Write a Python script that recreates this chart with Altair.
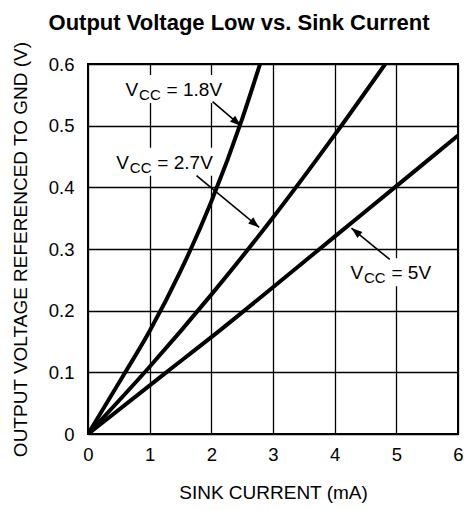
import math
import altair as alt
import pandas as pd

# ---------------- data ----------------
chart_title = "Output Voltage Low vs. Sink Current"
series_names = ["1.8V", "2.7V", "5V"]

sink_18 = [0, 0.58, 1.0, 1.5, 2.0, 2.5, 2.79]
vol_18 = [0, 0.096, 0.167, 0.264, 0.377, 0.511, 0.6]

sink_27 = [0, 1.0, 2.0, 3.0, 4.0, 4.82]
vol_27 = [0, 0.109, 0.226, 0.351, 0.485, 0.6]

sink_5 = [0, 1.27, 2.0, 3.0, 4.0, 5.0, 6.0]
vol_5 = [0, 0.1, 0.157, 0.238, 0.32, 0.402, 0.484]

x_ticks = [0, 1, 2, 3, 4, 5, 6]
y_ticks = [0, 0.1, 0.2, 0.3, 0.4, 0.5, 0.6]

# annotation anchors (data units)
ann_x = [0.61, 0.46, 4.256]
ann_y = [0.548, 0.43, 0.251]
ann_end_x = [2.17, 2.06, 5.53]
arrow_x1 = [2.02, 1.76, 4.893]
arrow_y1 = [0.539, 0.419, 0.283]
arrow_x2 = [2.48, 2.776, 4.272]
arrow_y2 = [0.4998, 0.335, 0.334]

# ---------------- layout constants ----------------
W = H = 370
PAD_L, PAD_T, PAD_R, PAD_B = 80, 56, 6, 72
PX_X = W / 6.0
PX_Y = H / 0.6
FONT = "Liberation Sans"

rows = []
for name, xs_, ys_ in zip(series_names, [sink_18, sink_27, sink_5], [vol_18, vol_27, vol_5]):
    for xv, yv in zip(xs_, ys_):
        rows.append({"vcc": name, "i": xv, "v": yv})
curves = pd.DataFrame(rows)

ann_rows = []
for k, name in enumerate(series_names):
    dxp = (arrow_x2[k] - arrow_x1[k]) * PX_X
    dyp = -(arrow_y2[k] - arrow_y1[k]) * PX_Y
    ang = math.degrees(math.atan2(dxp, -dyp)) % 360
    ann_rows.append({
        "vcc": name, "rest": "= " + name,
        "ax": ann_x[k], "ay": ann_y[k], "ex": ann_end_x[k],
        "x1": arrow_x1[k], "y1": arrow_y1[k],
        "x2": arrow_x2[k], "y2": arrow_y2[k], "ang": ang,
    })
ann = pd.DataFrame(ann_rows)

xs = alt.Scale(domain=[0, 6], nice=False, zero=False)
ys = alt.Scale(domain=[0, 0.6], nice=False, zero=False)

x_axis = alt.Axis(values=x_ticks, format="d", title="SINK CURRENT (mA)",
                  grid=True, ticks=False, tickSize=0, domain=False,
                  labelPadding=11, labelFontSize=18.5, labelFont=FONT,
                  labelColor="black", titleFontSize=19, titleFont=FONT,
                  titleFontWeight="normal", titleColor="black",
                  titleBaseline="alphabetic", titleY=64, labelFlush=False)
y_axis = alt.Axis(values=y_ticks, format=".1~f",
                  title="OUTPUT VOLTAGE REFERENCED TO GND (V)",
                  grid=True, ticks=False, tickSize=0, domain=False,
                  labelPadding=14, labelFontSize=18.5, labelFont=FONT,
                  labelColor="black", titleFontSize=19, titleFont=FONT,
                  titleFontWeight="normal", titleColor="black",
                  titleBaseline="alphabetic", titleX=-62, titleY=H / 2,
                  titleAngle=270, labelFlush=False)


def enc(xf, yf):
    return dict(
        x=alt.X(xf, scale=xs, axis=x_axis),
        y=alt.Y(yf, scale=ys, axis=y_axis),
    )


lines = alt.Chart(curves).mark_line(
    color="black", strokeWidth=4, interpolate="monotone", clip=True
).encode(detail="vcc:N", **enc("i:Q", "v:Q"))

boxes = alt.Chart(ann).mark_rect(
    color="white", xOffset=-3, x2Offset=3, yOffset=7, y2Offset=-21
).encode(x2="ex:Q", y2="ay:Q", **enc("ax:Q", "ay:Q"))

txt_v = alt.Chart(ann).mark_text(
    align="left", baseline="alphabetic", font=FONT, fontSize=19, color="black"
).encode(text=alt.value("V"), **enc("ax:Q", "ay:Q"))

txt_cc = alt.Chart(ann).mark_text(
    align="left", baseline="alphabetic", font=FONT, fontSize=15, color="black",
    dx=13.5, dy=4
).encode(text=alt.value("CC"), **enc("ax:Q", "ay:Q"))

txt_rest = alt.Chart(ann).mark_text(
    align="left", baseline="alphabetic", font=FONT, fontSize=19, color="black",
    dx=41
).encode(text="rest:N", **enc("ax:Q", "ay:Q"))

arrows = alt.Chart(ann).mark_rule(color="black", strokeWidth=1.6).encode(
    x2="x2:Q", y2="y2:Q", **enc("x1:Q", "y1:Q"))

heads = alt.Chart(ann).mark_point(
    shape="M0,0L-0.36,1L0.36,1Z", size=484, filled=True, color="black",
    opacity=1, strokeWidth=0
).encode(angle=alt.Angle("ang:Q", scale=None), **enc("x2:Q", "y2:Q"))

# chart heading, drawn above the plot area
heading = alt.Chart(pd.DataFrame({"t": [chart_title]})).mark_text(
    align="center", baseline="alphabetic", font=FONT, fontSize=22,
    fontWeight="bold", color="black"
).encode(text="t:N", x=alt.value(151), y=alt.value(-34))

chart = alt.layer(boxes, lines, txt_v, txt_cc, txt_rest, arrows, heads, heading).properties(
    width=W, height=H,
    autosize=alt.AutoSizeParams(type="none"),
    padding={"left": PAD_L, "top": PAD_T, "right": PAD_R, "bottom": PAD_B},
    background="white",
).configure_view(
    stroke="black", strokeWidth=2
).configure_axis(
    gridColor="black", gridWidth=1.3, gridOpacity=1
)

chart.save("out.html", embed_options={"renderer": "svg", "actions": False})
